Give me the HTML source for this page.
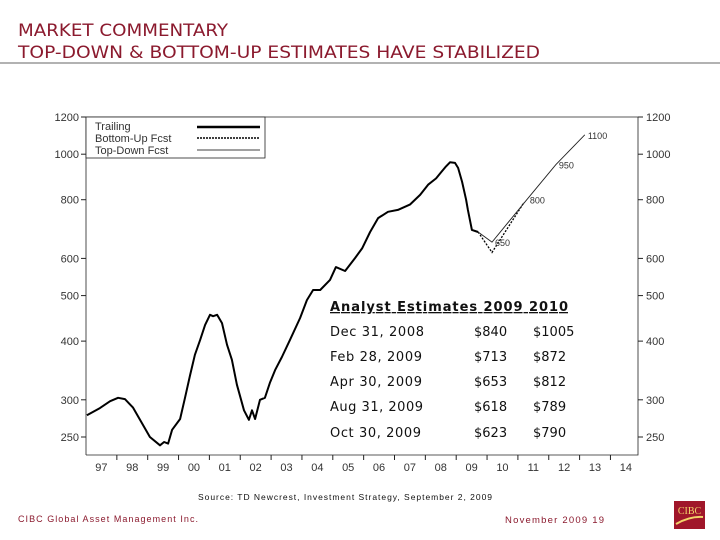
<!DOCTYPE html>
<html><head><meta charset="utf-8"><style>
body{margin:0;background:#fff;}
svg{display:block;font-family:"Liberation Sans",sans-serif;}
.t{font-family:"DejaVu Sans","Liberation Sans",sans-serif;}
</style></head><body>
<svg id="c" width="720" height="540" viewBox="0 0 720 540">
<text class="t" x="18" y="36" font-size="16.5" fill="#8b1a2e" textLength="210" lengthAdjust="spacingAndGlyphs">MARKET COMMENTARY</text>
<text class="t" x="18" y="58" font-size="16.5" fill="#8b1a2e" textLength="522" lengthAdjust="spacingAndGlyphs">TOP-DOWN &amp; BOTTOM-UP ESTIMATES HAVE STABILIZED</text>
<line x1="0" y1="63" x2="720" y2="63" stroke="#999" stroke-width="1.5"/>
<g id="chart"></g>
<g>
<rect x="86" y="117" width="179" height="41" fill="#fff" stroke="#222" stroke-width="0.8"/>
<text x="95" y="130" font-size="11" fill="#333">Trailing</text>
<line x1="197" y1="127" x2="260" y2="127" stroke="#000" stroke-width="2.5"/>
<text x="95" y="142" font-size="11" fill="#333">Bottom-Up Fcst</text>
<line x1="197" y1="138" x2="260" y2="138" stroke="#000" stroke-width="1.5" stroke-dasharray="2,1"/>
<text x="95" y="154" font-size="11" fill="#333">Top-Down Fcst</text>
<line x1="197" y1="150" x2="260" y2="150" stroke="#000" stroke-width="0.8"/>
</g>
<g class="t" font-size="13" fill="#111">
<text x="330" y="311" font-weight="bold" text-decoration="underline" textLength="238" lengthAdjust="spacing">Analyst Estimates  2009  2010</text>
<text x="330" y="336" textLength="94">Dec 31, 2008</text><text x="474" y="336">$840</text><text x="533" y="336">$1005</text>
<text x="330" y="361" textLength="92">Feb 28, 2009</text><text x="474" y="361">$713</text><text x="533" y="361">$872</text>
<text x="330" y="386" textLength="92">Apr 30, 2009</text><text x="474" y="386">$653</text><text x="533" y="386">$812</text>
<text x="330" y="411" textLength="93">Aug 31, 2009</text><text x="474" y="411">$618</text><text x="533" y="411">$789</text>
<text x="330" y="437" textLength="91">Oct 30, 2009</text><text x="474" y="437">$623</text><text x="533" y="437">$790</text>
</g>
<text x="198" y="500" font-size="8.5" fill="#111" textLength="294" lengthAdjust="spacing">Source:    TD Newcrest, Investment Strategy, September 2, 2009</text>
<text x="18" y="522" font-size="9" fill="#8b1a2e" textLength="180" lengthAdjust="spacing">CIBC Global Asset Management Inc.</text>
<text x="505" y="523" font-size="9.5" fill="#8b1a2e" textLength="99" lengthAdjust="spacing">November  2009 19</text>
<g>
<rect x="674" y="501" width="31" height="28" fill="#a0162a"/>
<text x="689.5" y="514" font-size="10" font-family="Liberation Serif,serif" fill="#f3d36a" text-anchor="middle">CIBC</text>
<path d="M676 524 Q690 516 703 517" stroke="#f3d36a" stroke-width="2" fill="none"/>
</g>
</svg>
<script>
const trailDates=[1997.03,1997.45,1997.78,1998.04,1998.26,1998.52,1998.75,1999.07,1999.40,1999.53,1999.66,1999.79,2000.05,2000.21,2000.37,2000.53,2000.70,2000.86,2001.02,2001.12,2001.25,2001.41,2001.57,2001.73,2001.89,2002.12,2002.28,2002.38,2002.48,2002.64,2002.80,2002.96,2003.13,2003.35,2003.61,2003.94,2004.16,2004.36,2004.59,2004.91,2005.10,2005.40,2005.72,2005.95,2006.21,2006.47,2006.79,2007.11,2007.50,2007.83,2008.09,2008.35,2008.51,2008.67,2008.80,2008.96,2009.06,2009.19,2009.32,2009.38,2009.51,2009.71];
const trailValues=[278,288,298,303,301,289,272,250,240,244,242,259,273,303,338,374,402,433,455,452,455,437,393,365,323,285,272,285,273,300,303,326,347,370,402,448,489,514,514,540,575,564,601,630,683,731,754,761,781,819,861,888,915,942,961,958,935,873,800,761,690,683];
const topDownDates=[2009.71,2010.16,2011.29,2012.23,2013.17];
const topDownValues=[683,650,800,950,1100];
const bottomUpDates=[2009.71,2010.16,2011.20];
const bottomUpValues=[683,618,790];
const fcstLabels=["650","800","950","1100"];
const yTicks=[1200,1000,800,600,500,400,300,250];
const yearLabels=["97","98","99","00","01","02","03","04","05","06","07","08","09","10","11","12","13","14"];

const NS="http://www.w3.org/2000/svg";
const g=document.getElementById('chart');
const L=86,R=638,T=117,B=455;
const xOf=t=>L+(t-1997)*30.85;
const yOf=v=>T+Math.log(1200/v)*204;
function mk(tag,attrs,parent){const e=document.createElementNS(NS,tag);for(const k in attrs)e.setAttribute(k,attrs[k]);(parent||g).appendChild(e);return e;}

let e=mk('path',{d:`M${L} ${B}V${T}H${R}V${B}H${L}`,fill:'none',stroke:'#222','stroke-width':0.8});


yTicks.forEach(v=>{
  const y=yOf(v);
  mk('line',{x1:L-5,y1:y,x2:L,y2:y,stroke:'#222'});
  mk('line',{x1:R,y1:y,x2:R+5,y2:y,stroke:'#222'});
  let a=mk('text',{x:L-7,y:y+4,'font-size':11,fill:'#333','text-anchor':'end'});a.textContent=v;
  
  
  let b=mk('text',{x:R+8,y:y+4,'font-size':11,fill:'#333'});b.textContent=v;
  
  
});
yearLabels.forEach((lab,i)=>{
  const x0=xOf(1997+i);
  if(i>0)mk('line',{x1:x0,y1:B,x2:x0,y2:B+5,stroke:'#222'});
  let t=mk('text',{x:x0+15.4,y:B+16,'font-size':11,fill:'#333','text-anchor':'middle'});t.textContent=lab;
  
  
});
function line(ds,vs,attrs,name){
  const d=ds.map((t,i)=>(i?'L':'M')+xOf(t).toFixed(1)+' '+yOf(vs[i]).toFixed(1)).join('');
  const p=mk('path',Object.assign({d:d,fill:'none'},attrs));
  
  
}
line(bottomUpDates,bottomUpValues,{stroke:'#000','stroke-width':1.3,'stroke-dasharray':'2,1.5'},'bottom-up-forecast-line');
line(topDownDates,topDownValues,{stroke:'#222','stroke-width':0.9},'top-down-forecast-line');
line(trailDates,trailValues,{stroke:'#000','stroke-width':2,'stroke-linejoin':'round'},'trailing-line');
fcstLabels.forEach((lab,i)=>{
  const t=mk('text',{x:xOf(topDownDates[i+1])+3,y:yOf(topDownValues[i+1])+4,'font-size':9,fill:'#333'});
  t.textContent=lab;
  
  
});
</script>
</body></html>
